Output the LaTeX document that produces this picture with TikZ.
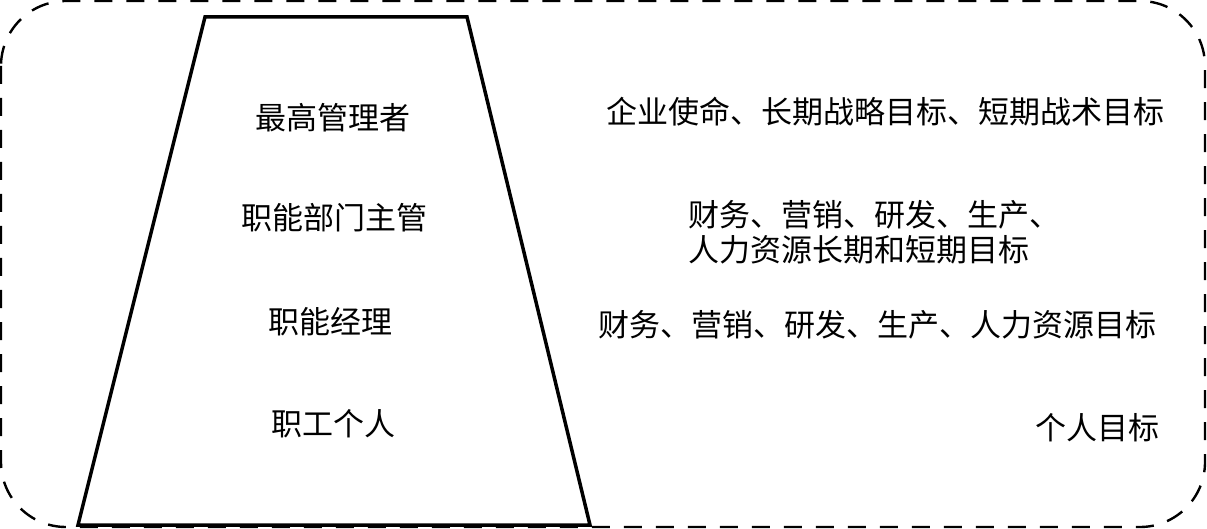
\documentclass[tikz,border=0pt]{standalone}
\usepackage{fontspec}
\newfontfamily\cjk{Noto Sans CJK SC}

\begin{document}
\begin{tikzpicture}[x=1pt, y=-1pt,
    level/.style={font=\cjk\fontsize{31}{35}\selectfont, inner sep=0pt},
    goal/.style={font=\cjk\fontsize{31}{35}\selectfont, inner sep=0pt, align=left}]
    \useasboundingbox (0,0) rectangle (1207,529);
    \draw[line width=2.4pt, dash pattern=on 18pt off 14pt, rounded corners=65pt] (1,1) rectangle (1205,527);

    \coordinate (TL) at (205,17);
    \coordinate (TR) at (467,17);
    \coordinate (BR) at (590,525);
    \coordinate (BL) at (78,525);
    \draw[line width=3.5pt] (TL) -- (TR) -- (BR) -- (BL) -- cycle;

    \node[level] (top) at (333,118) {最高管理者};
    \node[level] (dept) at (334,218) {职能部门主管};
    \node[level] (mgr) at (330,322) {职能经理};
    \node[level] (staff) at (333,424) {职工个人};

    \node[goal, anchor=east] (g1) at (1165,112) {企业使命、长期战略目标、短期战术目标};
    \node[goal, anchor=west] (g2) at (688,232) {财务、营销、研发、生产、\\人力资源长期和短期目标};
    \node[goal, anchor=east] (g3) at (1157,325) {财务、营销、研发、生产、人力资源目标};
    \node[goal, anchor=east] (g4) at (1160,428) {个人目标};
\end{tikzpicture}
\end{document}
